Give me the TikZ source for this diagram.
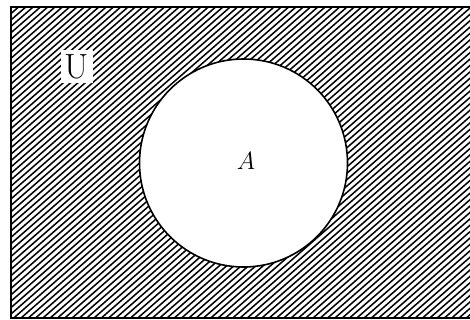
\documentclass[tikz,border=0pt]{standalone}
\begin{document}
\begin{tikzpicture}[x=1pt,y=-1pt,
  border/.style={line width=1.6pt},
  hatch/.style={line width=1.5pt},
  lbl/.style={inner sep=0pt}]
\useasboundingbox (0,0) rectangle (470,320);
\coordinate (nw) at (11,7);
\coordinate (se) at (471,318);
\coordinate (c) at (243.5,163);
\begin{scope}
  \clip (nw) rectangle (se);
  \foreach \i in {-60,...,80}{
    \draw[hatch] (\i*7.3,330) -- ++(450,-394);
  }
\end{scope}
\draw[border] (nw) rectangle (se);
\draw[border,fill=white] (c) circle[radius=104];
\node[lbl,fill=white,minimum width=32pt,minimum height=33pt] (U) at (77,66.5) {\fontsize{35}{35}\selectfont U};
\node[lbl] (A) at (246,161) {\fontsize{30}{30}\selectfont $A$};
\end{tikzpicture}
\end{document}
